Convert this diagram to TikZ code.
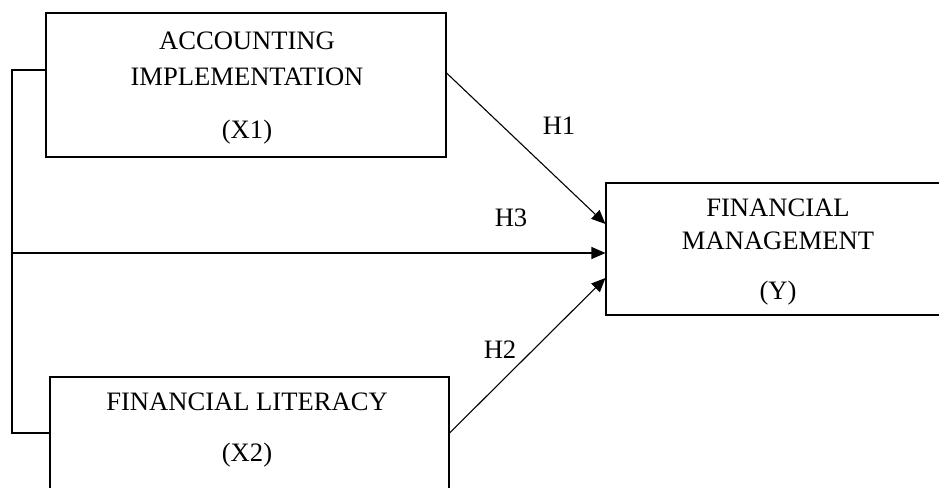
\documentclass[tikz,border=0pt]{standalone}
\usepackage{fontspec}
\setmainfont{Liberation Serif}
\usetikzlibrary{arrows.meta,calc}
\begin{document}
\begin{tikzpicture}[x=1pt,y=-1pt,
  box/.style={draw, line width=1.1pt, inner sep=0pt},
  lbl/.style={font=\fontsize{26.6}{32}\selectfont, inner sep=0pt},
  conn/.style={line width=1.1pt},
  arr/.style={conn, -{Triangle[length=14pt,width=12pt]}}]
\useasboundingbox (0,0) rectangle (939,487);
\clip (0,0) rectangle (939,487);
% boxes
\node[box, minimum width=400pt, minimum height=144pt] (x1) at (246,85) {};
\node[box, minimum width=399pt, minimum height=130pt] (x2) at (249.5,442) {};
\node[box, minimum width=360pt, minimum height=132pt] (y) at (786,249) {};
% texts
\node[lbl] (t1a) at (247,41) {ACCOUNTING};
\node[lbl] (t1b) at (247,77) {IMPLEMENTATION};
\node[lbl] (t1c) at (247,132) {(X1)};
\node[lbl] (t2a) at (247,402) {FINANCIAL LITERACY};
\node[lbl] (t2b) at (247,455) {(X2)};
\node[lbl] (tya) at (778,208) {FINANCIAL};
\node[lbl] (tyb) at (778,241) {MANAGEMENT};
\node[lbl] (tyc) at (778,293) {(Y)};
\node[lbl] (h1) at (559,126) {H1};
\node[lbl] (h3) at (511,218) {H3};
\node[lbl] (h2) at (500,350) {H2};
% helper coordinates
\coordinate (Ltop) at (12,70);
\coordinate (Lmid) at (12,253);
\coordinate (Lbot) at (12,433);
\coordinate (s1) at (0,73);
\coordinate (e1) at (0,224);
\coordinate (e2) at (0,278);
% connectors
\draw[conn] (x1.west |- Ltop) -- (Ltop) -- (Lbot) -- (x2.west |- Lbot);
\draw[arr] (Lmid) -- (y.west |- Lmid);
\draw[arr] (x1.east |- s1) -- (y.west |- e1);
\draw[arr] (x2.east |- Lbot) -- (y.west |- e2);
\end{tikzpicture}
\end{document}
